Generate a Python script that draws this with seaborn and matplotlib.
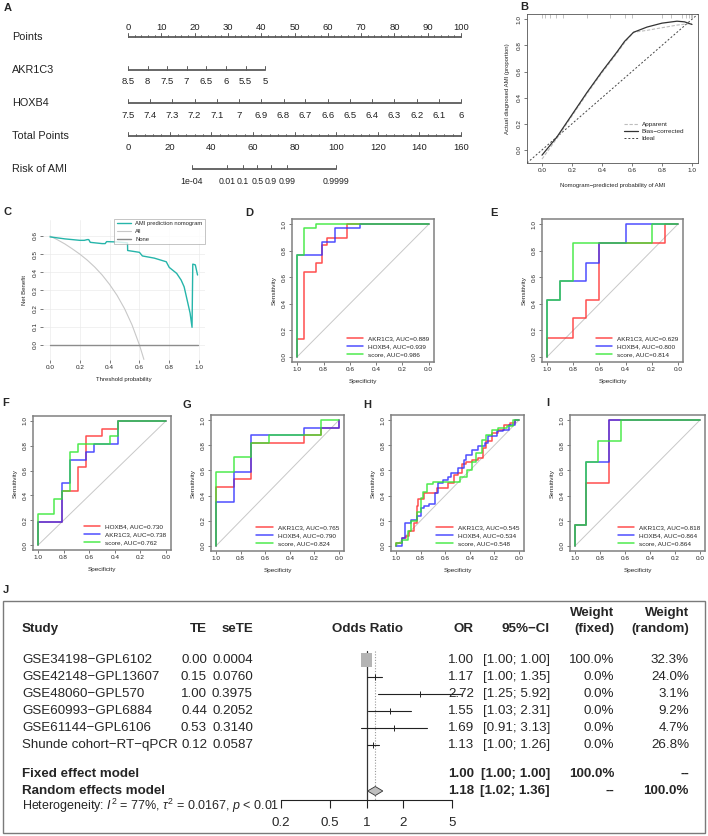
import numpy as np
import matplotlib
matplotlib.use("Agg")
import matplotlib.pyplot as plt
import seaborn as sns
from matplotlib.patches import Rectangle, Polygon
from matplotlib.lines import Line2D

sns.set_style("white")
plt.rcParams["font.family"] = ["Liberation Sans", "DejaVu Sans"]
plt.rcParams["mathtext.fontset"] = "custom"
plt.rcParams["mathtext.rm"] = "Liberation Sans"
plt.rcParams["mathtext.it"] = "Liberation Sans:italic"

# ---------------- data ----------------
# A: nomogram
nomo_rows = ["Points", "AKR1C3", "HOXB4", "Total Points", "Risk of AMI"]
points_ticks = [0, 10, 20, 30, 40, 50, 60, 70, 80, 90, 100]
akr1c3_labels = ["8.5", "8", "7.5", "7", "6.5", "6", "5.5", "5"]
akr1c3_points = [0, 5.9, 11.8, 17.6, 23.5, 29.4, 35.3, 41.2]
hoxb4_labels = ["7.5", "7.4", "7.3", "7.2", "7.1", "7", "6.9", "6.8",
                "6.7", "6.6", "6.5", "6.4", "6.3", "6.2", "6.1", "6"]
hoxb4_points = [0, 6.7, 13.3, 20, 26.7, 33.3, 40, 46.7,
                53.3, 60, 66.7, 73.3, 80, 86.7, 93.3, 100]
total_ticks = [0, 20, 40, 60, 80, 100, 120, 140, 160]
risk_labels = ["1e-04", "0.01", "0.1", "0.5", "0.9", "0.99", "0.9999"]
risk_total = [30.6, 47.8, 55.3, 62.2, 68.7, 76.4, 99.9]

# B: calibration
cal_pred = [0.0, 0.05, 0.1, 0.2, 0.3, 0.4, 0.5, 0.55, 0.61, 0.7, 0.8, 0.9, 0.95, 1.0]
cal_apparent = [-0.07, 0.01, 0.09, 0.26, 0.43, 0.59, 0.74, 0.82, 0.90, 0.915, 0.935, 0.955, 0.962, 0.968]
cal_bias = [-0.04, 0.03, 0.10, 0.27, 0.44, 0.60, 0.75, 0.83, 0.90, 0.94, 0.97, 0.985, 0.98, 0.96]
rug_pred = [0.0, 0.02, 0.05, 0.09, 0.14, 0.3, 0.45, 0.55, 0.6, 0.8, 0.86, 0.93, 0.96, 0.98, 0.99, 1.0]

# C: decision curve
dca_thr = [0.0, 0.1, 0.2, 0.23, 0.25, 0.26, 0.27, 0.35, 0.37, 0.38, 0.45, 0.52, 0.521, 0.6,
           0.62, 0.7, 0.78, 0.8, 0.85, 0.88, 0.9, 0.92, 0.94, 0.953, 0.958, 0.975, 0.99]
dca_nomo = [0.595, 0.584, 0.576, 0.576, 0.58, 0.58, 0.565, 0.558, 0.558, 0.569, 0.567, 0.562, 0.52, 0.51,
            0.49, 0.478, 0.458, 0.427, 0.394, 0.357, 0.32, 0.248, 0.175, 0.097, 0.445, 0.441, 0.385]
dca_all_thr = [0.0, 0.05, 0.1, 0.15, 0.2, 0.25, 0.3, 0.35, 0.4, 0.45, 0.5, 0.55, 0.6, 0.62, 0.63]
dca_all = [0.6, 0.579, 0.556, 0.529, 0.5, 0.467, 0.429, 0.385, 0.333, 0.273, 0.2, 0.111, 0.0, -0.053, -0.08]
dca_none_thr = [0.0, 0.99]
dca_none = [0.0, 0.0]

# D-I: ROC curves (specificity corners, sensitivity levels)
roc_panels = {
    "D": [
        ([1, 0.95, 0.86, 0.81, 0.77, 0.62, 0], [0, 0.13, 0.64, 0.71, 0.84, 0.90, 1.0], "AKR1C3, AUC=0.889"),
        ([1, 0.81, 0.71, 0.52, 0], [0, 0.77, 0.87, 0.97, 1.0], "HOXB4, AUC=0.939"),
        ([1, 0.95, 0.86, 0], [0, 0.77, 0.97, 1.0], "score, AUC=0.986"),
    ],
    "E": [
        ([1, 0.8, 0.7, 0.6, 0.1, 0], [0, 0.14, 0.29, 0.43, 0.86, 1.0], "AKR1C3, AUC=0.629"),
        ([1, 0.9, 0.7, 0.6, 0.4, 0], [0, 0.43, 0.57, 0.71, 0.86, 1.0], "HOXB4, AUC=0.800"),
        ([1, 0.9, 0.8, 0.2, 0], [0, 0.43, 0.57, 0.86, 1.0], "score, AUC=0.814"),
    ],
    "F": [
        ([1, 0.8125, 0.6875, 0.625, 0.5, 0.375, 0], [0, 0.1875, 0.4375, 0.625, 0.875, 0.9375, 1.0], "HOXB4, AUC=0.730"),
        ([1, 0.8125, 0.75, 0.625, 0.5625, 0.375, 0], [0, 0.1875, 0.5, 0.6875, 0.75, 0.8125, 1.0], "AKR1C3, AUC=0.738"),
        ([1, 0.875, 0.8125, 0.75, 0.6875, 0.4375, 0.375, 0], [0, 0.25, 0.375, 0.4375, 0.75, 0.8125, 0.875, 1.0], "score, AUC=0.762"),
    ],
    "G": [
        ([1, 0.857, 0.714, 0.286, 0.143, 0, 0], [0, 0.47, 0.53, 0.82, 0.88, 0.94, 1.0], "AKR1C3, AUC=0.765"),
        ([1, 0.857, 0.714, 0.286, 0, 0], [0, 0.35, 0.59, 0.88, 0.94, 1.0], "HOXB4, AUC=0.790"),
        ([1, 0.857, 0.714, 0.571, 0.143, 0], [0, 0.59, 0.71, 0.82, 0.88, 1.0], "score, AUC=0.824"),
    ],
    "H": [
        ([1, 0.95, 0.92, 0.89, 0.85, 0.83, 0.82, 0.77, 0.75, 0.67, 0.63, 0.58, 0.53, 0.50, 0.46,
          0.43, 0.38, 0.33, 0.29, 0.27, 0.22, 0.17, 0.12, 0.07, 0.03, 0],
         [0, 0.02, 0.06, 0.08, 0.12, 0.18, 0.32, 0.37, 0.42, 0.42, 0.46, 0.46, 0.50, 0.56, 0.58,
          0.65, 0.67, 0.68, 0.70, 0.78, 0.83, 0.90, 0.92, 0.96, 0.98, 1.0], "AKR1C3, AUC=0.545"),
        ([1, 0.95, 0.93, 0.88, 0.83, 0.80, 0.77, 0.73, 0.68, 0.66, 0.62, 0.58, 0.55, 0.50, 0.45,
          0.43, 0.38, 0.33, 0.28, 0.25, 0.18, 0.13, 0.08, 0.03, 0],
         [0, 0.0, 0.06, 0.18, 0.21, 0.24, 0.30, 0.32, 0.33, 0.42, 0.50, 0.52, 0.55, 0.58, 0.62,
          0.68, 0.72, 0.76, 0.79, 0.82, 0.87, 0.91, 0.92, 0.96, 1.0], "HOXB4, AUC=0.534"),
        ([1, 0.95, 0.9, 0.88, 0.83, 0.80, 0.78, 0.75, 0.70, 0.65, 0.55, 0.48, 0.42, 0.38, 0.35,
          0.30, 0.27, 0.22, 0.17, 0.10, 0.05, 0],
         [0, 0.02, 0.05, 0.12, 0.20, 0.27, 0.38, 0.43, 0.49, 0.51, 0.51, 0.51, 0.55, 0.60, 0.67,
          0.74, 0.84, 0.88, 0.92, 0.94, 0.95, 1.0], "score, AUC=0.548"),
    ],
    "I": [
        ([1, 0.909, 0.727, 0], [0, 0.167, 0.5, 1.0], "AKR1C3, AUC=0.818"),
        ([1, 0.909, 0.727, 0], [0, 0.167, 0.667, 1.0], "HOXB4, AUC=0.864"),
        ([1, 0.909, 0.818, 0.636, 0], [0, 0.167, 0.667, 0.833, 1.0], "score, AUC=0.864"),
    ],
}

# J: meta-analysis
studies = ["GSE34198\u2212GPL6102", "GSE42148\u2212GPL13607", "GSE48060\u2212GPL570",
           "GSE60993\u2212GPL6884", "GSE61144\u2212GPL6106", "Shunde cohort\u2212RT\u2212qPCR"]
te = [0.00, 0.15, 1.00, 0.44, 0.53, 0.12]
se_te = [0.0004, 0.0760, 0.3975, 0.2052, 0.3140, 0.0587]
odds = [1.00, 1.17, 2.72, 1.55, 1.69, 1.13]
ci_lo = [1.00, 1.00, 1.25, 1.03, 0.91, 1.00]
ci_hi = [1.00, 1.35, 5.92, 2.31, 3.13, 1.26]
w_fixed = [100.0, 0.0, 0.0, 0.0, 0.0, 0.0]
w_random = [32.3, 24.0, 3.1, 9.2, 4.7, 26.8]
fixed_est = (1.00, 1.00, 1.00)
random_est = (1.18, 1.02, 1.36)
or_ticks = [0.2, 0.5, 1, 2, 5]

# ---------------- figure ----------------
W, H = 708, 836
fig = plt.figure(figsize=(7.08, 8.36), dpi=100)


def box(x0, y0, x1, y1):
    # axes placed in pixel coordinates of the final image
    return fig.add_axes([x0 / W, 1 - y1 / H, (x1 - x0) / W, (y1 - y0) / H])


SMALL = 4.6
gray_box = "#808080"


def letter(x, y, s):
    fig.text(x / W, 1 - y / H, s, fontsize=8, fontweight="bold", ha="left", va="center")


# ---- A: nomogram
px0, px100 = 128, 461
axA = box(0, 0, 520, 190)
scale = (px100 - px0) / 100
axA.set_xlim(-px0 / scale, (520 - px0) / scale)
axA.set_ylim(190, 0)
axA.axis("off")
axT = box(0, 0, 520, 190)
axT.set_xlim(-px0 / scale * 1.6, (520 - px0) / scale * 1.6)
axT.set_ylim(190, 0)
axT.axis("off")
nc = "#5c5c5c"


def nomo_scale(ax, y, pos, labels, above=False, minor=None, fs=6.8):
    ax.plot([pos[0], pos[-1]], [y, y], color=nc, lw=1.3, solid_capstyle="butt")
    if minor is not None:
        for m in minor:
            ax.plot([m, m], [y, y - 2.2], color=nc, lw=0.6)
    for p, t in zip(pos, labels):
        ax.plot([p, p], [y, y - 4], color=nc, lw=0.7)
        ax.text(p, y - 10 if above else y + 12, t, ha="center", va="center",
                fontsize=fs, color="#222222")


row_y = [37, 70, 103, 136, 169]
for name, y in zip(nomo_rows, row_y):
    axA.text(-(px0 - 12) / scale, y, name, ha="left", va="center", fontsize=7.8, color="#222222")
nomo_scale(axA, row_y[0], points_ticks, [str(v) for v in points_ticks], above=True,
           minor=np.arange(0, 101, 2))
nomo_scale(axA, row_y[1], akr1c3_points, akr1c3_labels)
nomo_scale(axA, row_y[2], hoxb4_points, hoxb4_labels)
nomo_scale(axT, row_y[3], total_ticks, [str(v) for v in total_ticks], minor=np.arange(0, 161, 4))
nomo_scale(axT, row_y[4], risk_total, risk_labels, fs=6.3)
letter(4, 8, "A")


def r_axes(ax):
    for s in ax.spines.values():
        s.set_color(gray_box)
        s.set_linewidth(1.1)
    ax.tick_params(axis="both", length=2.2, width=0.5, color="#444444", labelsize=SMALL,
                   pad=1.5, direction="out", bottom=True, left=True)
    for lab in ax.get_yticklabels():
        lab.set_rotation(90)
        lab.set_va("center")


# ---- B: calibration
axB = box(527, 14, 698, 163)
axB.plot([-0.1, 1.04], [-0.1, 1.04], color="#444444", lw=0.7, ls=(0, (2, 2)), label="Ideal")
sns.lineplot(x=cal_pred, y=cal_apparent, ax=axB, color="#bdbdbd", lw=0.8, ls=(0, (3, 1.5)),
             sort=False, estimator=None, label="Apparent", legend=False)
sns.lineplot(x=cal_pred, y=cal_bias, ax=axB, color="#333333", lw=0.9,
             sort=False, estimator=None, label="Bias\u2212corrected", legend=False)
axB.plot(rug_pred, [1.025] * len(rug_pred), ls="none", marker="|", ms=2.5, mew=0.5, color="#aaaaaa")
axB.set_xlim(-0.1, 1.04)
axB.set_ylim(-0.1, 1.04)
axB.set_xticks([0, 0.2, 0.4, 0.6, 0.8, 1.0])
axB.set_yticks([0, 0.2, 0.4, 0.6, 0.8, 1.0])
axB.set_xticklabels(["0.0", "0.2", "0.4", "0.6", "0.8", "1.0"])
axB.set_yticklabels(["0.0", "0.2", "0.4", "0.6", "0.8", "1.0"])
r_axes(axB)
for s in axB.spines.values():
    s.set_color("#555555")
    s.set_linewidth(0.6)
axB.set_xlabel("Nomogram\u2212predicted probability of AMI", fontsize=SMALL - 0.3, labelpad=7)
axB.set_ylabel("Actual diagnosed AMI (proportion)", fontsize=SMALL - 0.3, labelpad=5)
hB = [Line2D([], [], color="#bdbdbd", lw=0.8, ls=(0, (3, 1.5))),
      Line2D([], [], color="#333333", lw=0.9),
      Line2D([], [], color="#444444", lw=0.7, ls=(0, (2, 2)))]
axB.legend(hB, ["Apparent", "Bias\u2212corrected", "Ideal"], loc="lower left",
           bbox_to_anchor=(0.55, 0.13), frameon=False, fontsize=SMALL, handlelength=2.2,
           labelspacing=0.25, handletextpad=0.6, borderaxespad=0)
letter(520, 7, "B")

# ---- C: decision curve
axC = box(43, 220, 205, 360)
axC.set_xlim(-0.047, 1.04)
axC.set_ylim(-0.083, 0.688)
axC.set_xticks([0, 0.2, 0.4, 0.6, 0.8, 1.0])
axC.set_yticks([0, 0.1, 0.2, 0.3, 0.4, 0.5, 0.6])
axC.set_xticklabels(["0.0", "0.2", "0.4", "0.6", "0.8", "1.0"])
axC.set_yticklabels(["0.0", "0.1", "0.2", "0.3", "0.4", "0.5", "0.6"])
axC.grid(True, color="#ebebeb", lw=0.5)
sns.lineplot(x=dca_all_thr, y=dca_all, ax=axC, color="#c8c8c8", lw=0.8, sort=False,
             estimator=None, label="All", legend=False)
sns.lineplot(x=dca_none_thr, y=dca_none, ax=axC, color="#8c8c8c", lw=1.0, sort=False,
             estimator=None, label="None", legend=False)
sns.lineplot(x=dca_thr, y=dca_nomo, ax=axC, color="#26b5aa", lw=1.0, sort=False,
             estimator=None, label="AMI prediction nomogram", legend=False)
r_axes(axC)
for s in axC.spines.values():
    s.set_visible(False)
axC.set_xlabel("Threshold probability", fontsize=SMALL - 0.3, labelpad=5)
axC.set_ylabel("Net Benefit", fontsize=SMALL - 0.3, labelpad=4)
hC = [Line2D([], [], color="#26b5aa", lw=1.0), Line2D([], [], color="#c8c8c8", lw=0.8),
      Line2D([], [], color="#8c8c8c", lw=1.0)]
legC = axC.legend(hC, ["AMI prediction nomogram", "All", "None"], loc="upper right",
                  bbox_to_anchor=(1.0, 1.01), fontsize=SMALL - 0.4, frameon=True, fancybox=False,
                  handlelength=2.4, labelspacing=0.45, borderpad=0.45, borderaxespad=0)
legC.get_frame().set_edgecolor("#999999")
legC.get_frame().set_linewidth(0.5)
letter(4, 212, "C")

# ---- D-I: ROC panels
roc_colors = ["#ff3030", "#3030ff", "#30e830"]
roc_boxes = {
    "D": ((292, 219, 434, 362), (245, 213)),
    "E": ((542, 219, 683, 362), (490, 213)),
    "F": ((33, 416, 171, 550), (2, 403)),
    "G": ((211, 415, 344, 551), (183, 405)),
    "H": ((391, 415, 524, 551), (363, 405)),
    "I": ((570, 415, 705, 551), (546, 403)),
}
for key, curves in roc_panels.items():
    (x0, y0, x1, y1), (lx, ly) = roc_boxes[key]
    ax = box(x0, y0, x1, y1)
    ax.plot([1, 0], [0, 1], color="#c8c8c8", lw=0.7)
    for (spec, sens, lab), col in zip(curves, roc_colors):
        sns.lineplot(x=spec, y=sens, ax=ax, color=col, lw=1.1, alpha=0.85, sort=False,
                     estimator=None, drawstyle="steps-pre", label=lab, legend=False)
    ax.set_xlim(1.04, -0.04)
    ax.set_ylim(-0.04, 1.04)
    ticks = [1.0, 0.8, 0.6, 0.4, 0.2, 0.0]
    ax.set_xticks(ticks)
    ax.set_yticks(ticks)
    ax.set_xticklabels(["%.1f" % t for t in ticks])
    ax.set_yticklabels(["%.1f" % t for t in ticks])
    r_axes(ax)
    ax.set_xlabel("Specificity", fontsize=SMALL, labelpad=5)
    ax.set_ylabel("Sensitivity", fontsize=SMALL, labelpad=4)
    hs = [Line2D([], [], color=c, lw=1.1, alpha=0.85) for c in roc_colors]
    ax.legend(hs, [c[2] for c in curves], loc="lower right", frameon=False, fontsize=SMALL,
              handlelength=2.6, labelspacing=0.45, handletextpad=0.8, borderaxespad=0.3)
    letter(lx, ly, key)

# ---- J: forest plot
axJ = box(0, 580, 708, 836)
axJ.set_xlim(0, 708)
axJ.set_ylim(836, 580)
axJ.axis("off")
axJ.add_patch(Rectangle((3, 601), 702, 232, fill=False, edgecolor="#7a7a7a", lw=1.0))
letter(3, 590, "J")

FS = 9.6
col_te, col_se, col_or, col_ci, col_wf, col_wr = 207, 253, 474, 550, 614, 689
hdr_y1, hdr_y2 = 613, 629
axJ.text(col_wf, hdr_y1, "Weight", ha="right", va="center", fontsize=FS, fontweight="bold")
axJ.text(col_wr, hdr_y1, "Weight", ha="right", va="center", fontsize=FS, fontweight="bold")
for x, t, ha in [(22, "Study", "left"), (col_te, "TE", "right"), (col_se, "seTE", "right"),
                 (368, "Odds Ratio", "center"), (col_or, "OR", "right"),
                 (col_ci, "95%\u2212CI", "right"), (col_wf, "(fixed)", "right"),
                 (col_wr, "(random)", "right")]:
    axJ.text(x, hdr_y2, t, ha=ha, va="center", fontsize=FS, fontweight="bold")

row_ys = [660, 677, 694, 711, 728, 745]
for i, y in enumerate(row_ys):
    axJ.text(22, y, studies[i], ha="left", va="center", fontsize=FS)
    axJ.text(col_te, y, "%.2f" % te[i], ha="right", va="center", fontsize=FS)
    axJ.text(col_se, y, "%.4f" % se_te[i], ha="right", va="center", fontsize=FS)
    axJ.text(col_or, y, "%.2f" % odds[i], ha="right", va="center", fontsize=FS)
    axJ.text(col_ci, y, "[%.2f; %.2f]" % (ci_lo[i], ci_hi[i]), ha="right", va="center", fontsize=FS)
    axJ.text(col_wf, y, "%.1f%%" % w_fixed[i], ha="right", va="center", fontsize=FS)
    axJ.text(col_wr, y, "%.1f%%" % w_random[i], ha="right", va="center", fontsize=FS)

fy, ry = 774, 791
axJ.text(22, fy, "Fixed effect model", ha="left", va="center", fontsize=FS, fontweight="bold")
axJ.text(22, ry, "Random effects model", ha="left", va="center", fontsize=FS, fontweight="bold")
for y, est, wf, wr in [(fy, fixed_est, "100.0%", "--"), (ry, random_est, "--", "100.0%")]:
    axJ.text(col_or, y, "%.2f" % est[0], ha="right", va="center", fontsize=FS, fontweight="bold")
    axJ.text(col_ci, y, "[%.2f; %.2f]" % (est[1], est[2]), ha="right", va="center",
             fontsize=FS, fontweight="bold")
    axJ.text(col_wf, y, wf, ha="right", va="center", fontsize=FS, fontweight="bold")
    axJ.text(col_wr, y, wr, ha="right", va="center", fontsize=FS, fontweight="bold")
axJ.text(22, 806, r"Heterogeneity: $I^2$ = 77%, $\tau^2$ = 0.0167, $p$ < 0.01",
         ha="left", va="center", fontsize=9.0)

axF = box(281, 640, 452, 800)
axF.set_xscale("log")
axF.set_xlim(0.2, 5)
axF.set_ylim(800, 640)
axF.patch.set_alpha(0)
for s in ["top", "left", "right"]:
    axF.spines[s].set_visible(False)
axF.spines["bottom"].set_color("#222222")
axF.spines["bottom"].set_linewidth(0.8)
axF.set_xticks(or_ticks)
axF.set_xticklabels([str(t) for t in or_ticks])
axF.minorticks_off()
axF.set_yticks([])
axF.tick_params(axis="x", length=6, width=0.8, color="#222222", labelsize=FS, pad=6,
                bottom=True, direction="out")
axF.plot([1, 1], [651, 800], color="#333333", lw=0.9, clip_on=False)
axF.plot([random_est[0]] * 2, [651, 800], color="#999999", lw=0.8, ls=(0, (1, 1.5)), clip_on=False)
for i, y in enumerate(row_ys):
    axF.plot([ci_lo[i], ci_hi[i]], [y, y], color="#222222", lw=0.8, clip_on=False)
    axF.plot([odds[i]], [y], marker="|", ms=4, mew=0.7, color="#222222", clip_on=False)
    if w_fixed[i] > 0:
        # square sized by fixed-effect weight (about 12 px wide)
        axF.add_patch(Rectangle((0.894, y - 7), 1.119 - 0.894, 14, facecolor="#b4b4b4",
                                edgecolor="none", zorder=3))
est, lo, hi = random_est
axF.add_patch(Polygon([(lo, ry), (est, ry - 4.5), (hi, ry), (est, ry + 4.5)], closed=True,
                      facecolor="#bfbfbf", edgecolor="#333333", lw=0.6, zorder=3))

fig.savefig("out.png", dpi=100)
